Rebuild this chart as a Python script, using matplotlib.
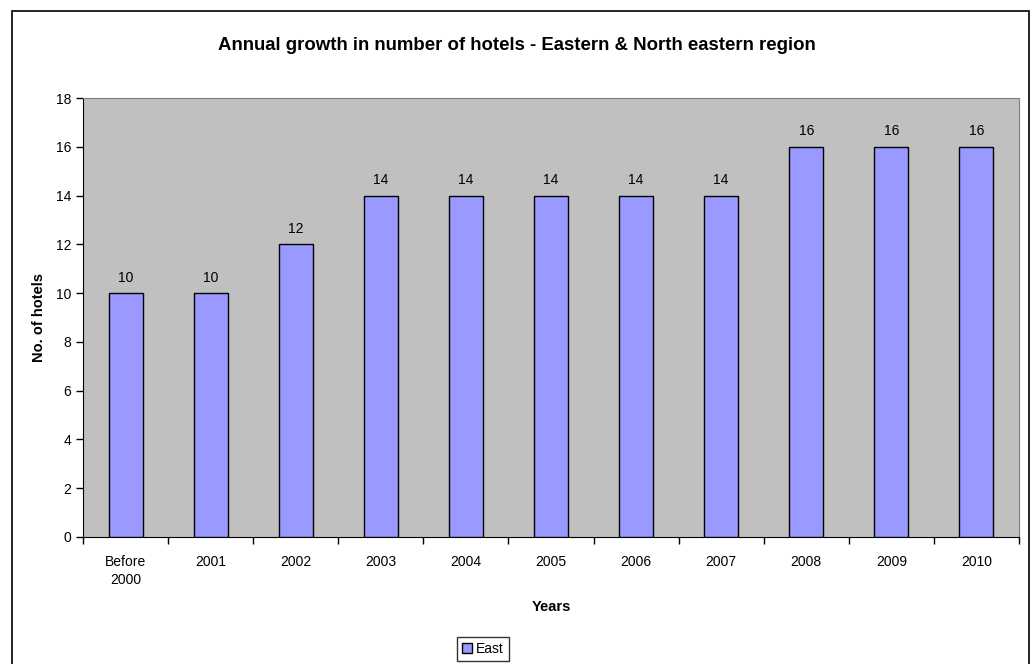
import matplotlib.pyplot as plt
from matplotlib.patches import Rectangle

plt.rcParams["font.family"] = ["Liberation Sans", "DejaVu Sans"]

categories = ["Before\n2000", "2001", "2002", "2003", "2004", "2005",
              "2006", "2007", "2008", "2009", "2010"]
hotels = [10, 10, 12, 14, 14, 14, 14, 14, 16, 16, 16]
series_name = "East"

W, H = 1034, 664
fig = plt.figure(figsize=(W / 100, H / 100), dpi=100)
ax = fig.add_axes([83 / W, 1 - 537 / H, (1019 - 83) / W, (537 - 98) / H])
ax.set_facecolor("#C0C0C0")

x = range(len(categories))
bars = ax.bar(x, hotels, width=0.4, color="#9999FF", edgecolor="black",
              linewidth=1, label=series_name, zorder=3)
for b, v in zip(bars, hotels):
    ax.annotate(str(v), (b.get_x() + b.get_width() / 2, v),
                xytext=(0, 6), textcoords="offset points",
                ha="center", va="bottom", fontsize=10)

ax.set_xlim(-0.5, len(categories) - 0.5)
ax.set_ylim(0, 18)
ax.set_yticks(range(0, 19, 2))
# category boundaries get the tick marks, labels sit in between
ax.set_xticks([i - 0.5 for i in range(len(categories) + 1)])
ax.set_xticklabels([])
ax.set_xticks(list(x), minor=True)
ax.set_xticklabels(categories, minor=True, fontsize=10, linespacing=1.4)
ax.tick_params(axis="x", which="minor", length=0, pad=13)
ax.tick_params(axis="x", which="major", length=5, direction="out", width=1)
ax.tick_params(axis="y", length=5, labelsize=10, width=1)

for side in ("top", "right"):
    ax.spines[side].set_color("#808080")
for side in ("left", "bottom"):
    ax.spines[side].set_color("black")

ax.set_xlabel("Years", fontsize=10.5, fontweight="bold", labelpad=9)
ax.set_ylabel("No. of hotels", fontsize=10.5, fontweight="bold", labelpad=7)
fig.text(0.5, 1 - 45 / H,
         "Annual growth in number of hotels - Eastern & North eastern region",
         ha="center", va="center", fontsize=13.4, fontweight="bold")

leg = fig.legend(loc="upper center", bbox_to_anchor=(483 / W, 1 - 637 / H),
                 fontsize=10, frameon=True, fancybox=False, edgecolor="black",
                 handlelength=0.7, handleheight=0.7, handletextpad=0.3,
                 borderpad=0.35, borderaxespad=0)
leg.get_frame().set_linewidth(1)

fig.patches.append(Rectangle((12 / W, -0.02), (1029 - 12) / W, 1 - 11 / H + 0.02,
                             transform=fig.transFigure, fill=False,
                             edgecolor="black", linewidth=1.2))

fig.savefig("out.png", dpi=100)
